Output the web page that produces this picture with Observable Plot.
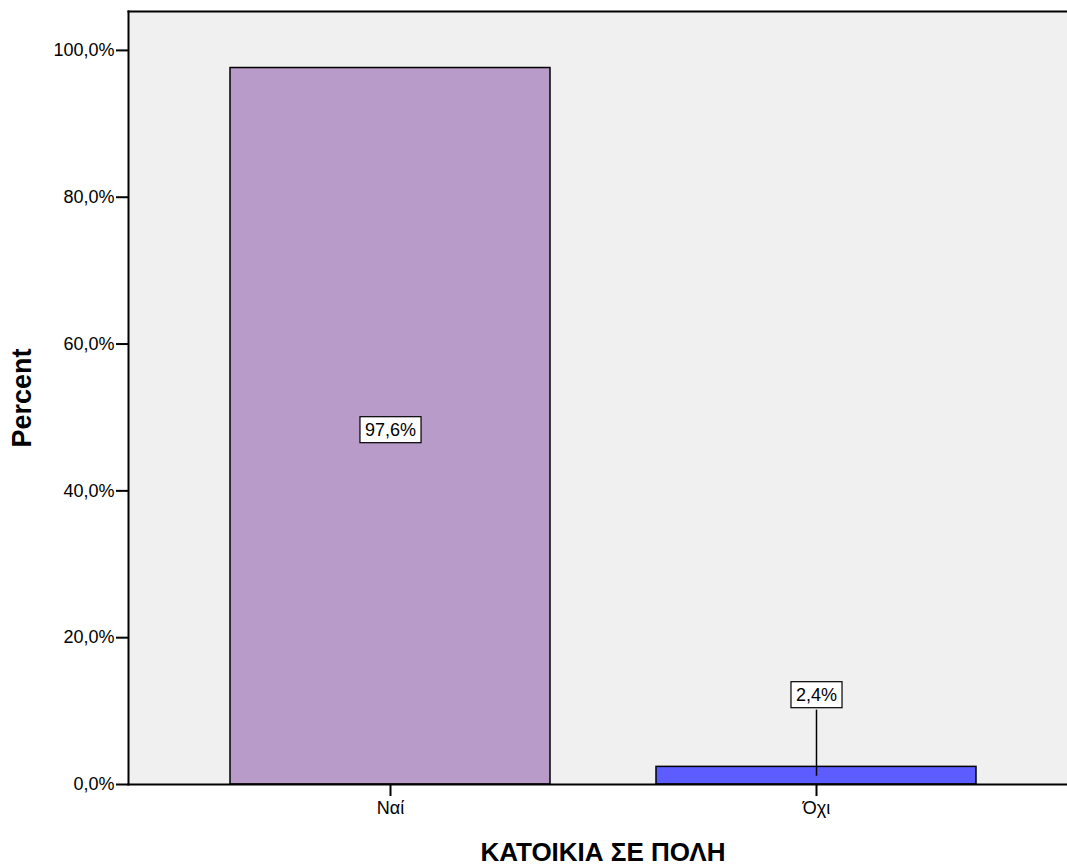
<!DOCTYPE html>
<html>
<head>
<meta charset="utf-8">
<script src="https://cdn.jsdelivr.net/npm/d3@7"></script>
<script src="https://cdn.jsdelivr.net/npm/@observablehq/plot@0.6"></script>
<style>
  html, body { margin: 0; padding: 0; background: #fff; }
  #chart svg { display: block; }
</style>
</head>
<body>
<div id="chart"></div>
<script>
const categories = ["Ναί", "Όχι"];
const percents = [97.6, 2.4];
const labels = ["97,6%", "2,4%"];
const labelPos = [48.3, 12.2];
const colors = ["#b89bc9", "#5c5cff"];
const yTicks = [0, 20, 40, 60, 80, 100];
const xTitle = "ΚΑΤΟΙΚΙΑ ΣΕ ΠΟΛΗ";
const yTitle = "Percent";

const data = categories.map((c, i) => ({cat: c, pct: percents[i], label: labels[i], ly: labelPos[i], color: colors[i]}));
const leader = [{cat: "Όχι", y1: 1.2, y2: 10.2}];

const font = "'Liberation Sans', Arial, sans-serif";

const chart = Plot.plot({
  width: 1067,
  height: 868,
  marginLeft: 128,
  marginTop: 11,
  marginRight: 0,
  marginBottom: 84,
  style: {fontFamily: font, fontSize: "18px", color: "#000", background: "#fff"},
  x: {domain: categories, range: [229, 976], paddingInner: 0.25, paddingOuter: 0, label: null},
  y: {domain: [0, 105.3], label: null},
  color: {type: "identity"},
  marks: [
    Plot.frame({fill: "#f0f0f0", stroke: null}),
    Plot.frame({anchor: "top", stroke: "#000", strokeWidth: 2}),
    Plot.frame({anchor: "left", stroke: "#000", strokeWidth: 2}),
    Plot.barY(data, {x: "cat", y: "pct", fill: "color", stroke: "#000", strokeWidth: 1.5}),
    Plot.frame({anchor: "bottom", stroke: "#000", strokeWidth: 2}),
    Plot.axisY({ticks: yTicks, tickFormat: d => d.toFixed(1).replace(".", ",") + "%", tickSize: 12, tickPadding: 2, strokeWidth: 2, fontSize: 18, label: null}),
    Plot.axisX({tickSize: 12, tickPadding: 5, strokeWidth: 2, fontSize: 18, label: null}),
    Plot.link(leader, {x1: "cat", x2: "cat", y1: "y1", y2: "y2", stroke: "#000", strokeWidth: 1.5, className: "leader"}),
    Plot.text(data, {x: "cat", y: "ly", text: "label", fontSize: 18, fill: "#000", className: "boxlabel"}),
    Plot.text([yTitle], {frameAnchor: "left", dx: -106, rotate: -90, textAnchor: "middle", fontSize: 27, fontWeight: "bold", fill: "#000"}),
    Plot.text([xTitle], {frameAnchor: "bottom", dx: 5, dy: 76, fontSize: 26, fontWeight: "bold", fill: "#000"})
  ]
});

document.getElementById("chart").appendChild(chart);

// Draw white boxes behind the value labels
chart.querySelectorAll("g.boxlabel text").forEach(t => {
  const b = t.getBBox();
  const r = document.createElementNS("http://www.w3.org/2000/svg", "rect");
  const px = 5, py = 4;
  r.setAttribute("x", b.x - px);
  r.setAttribute("y", b.y - py + 1);
  r.setAttribute("width", b.width + 2 * px);
  r.setAttribute("height", b.height + 2 * py - 2);
  r.setAttribute("fill", "#fff");
  r.setAttribute("stroke", "#000");
  r.setAttribute("stroke-width", "1.2");
  const tr = t.getAttribute("transform");
  if (tr) r.setAttribute("transform", tr);
  t.parentNode.insertBefore(r, t);
});
</script>
</body>
</html>
